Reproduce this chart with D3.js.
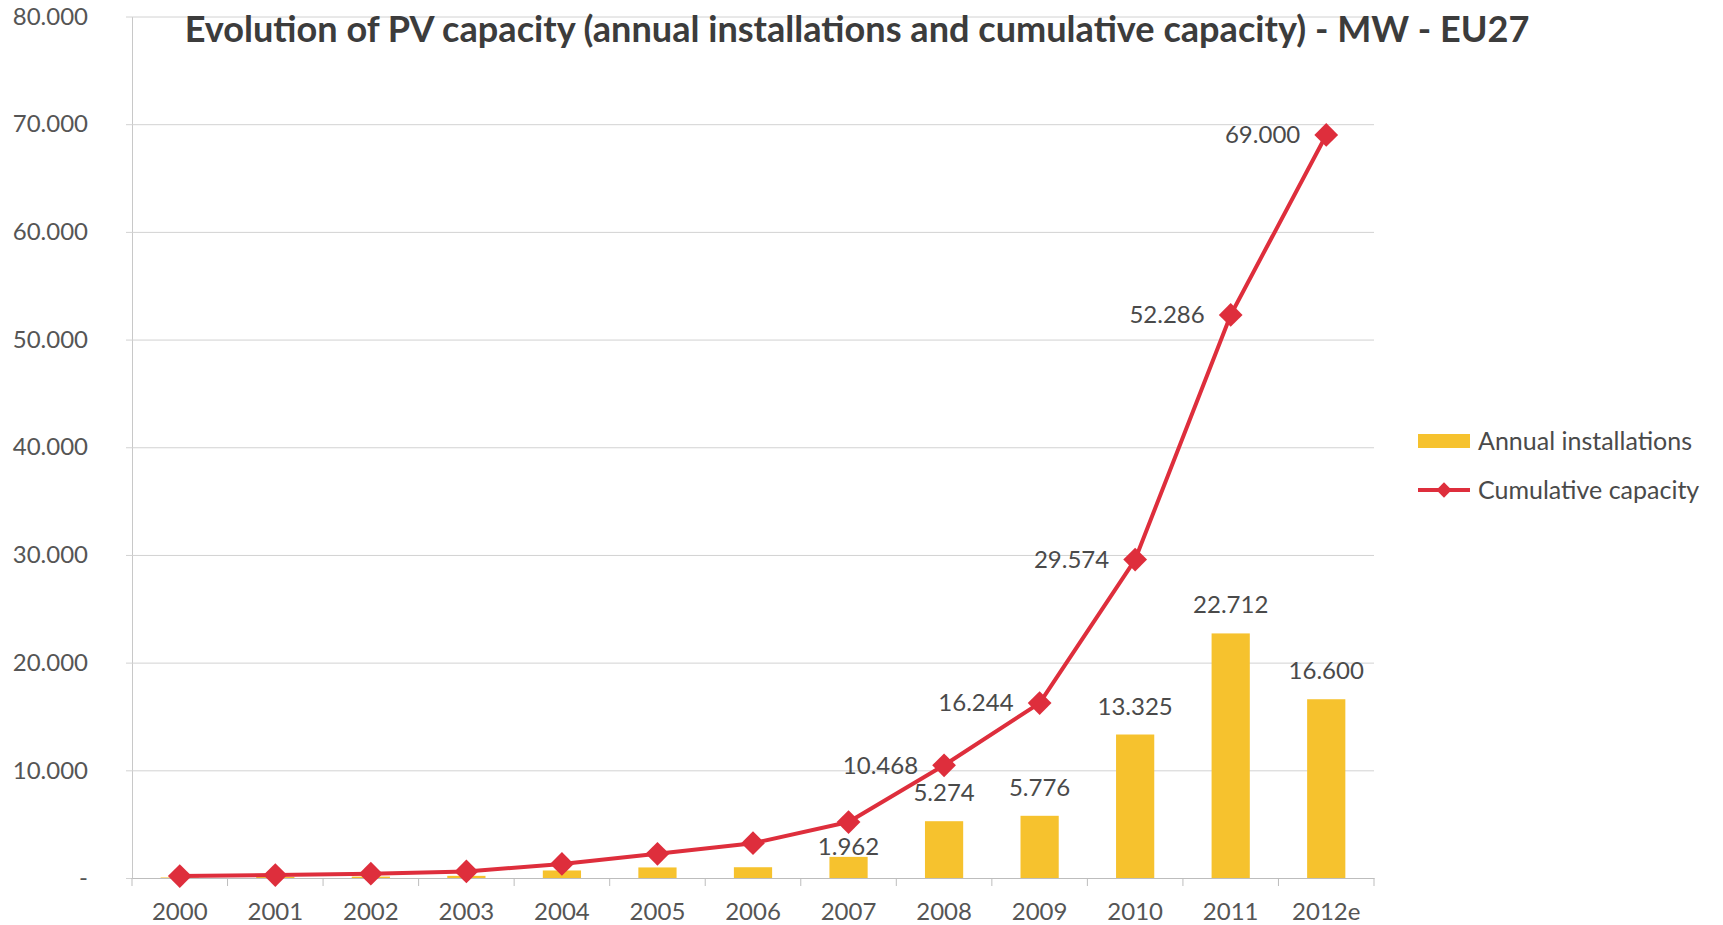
<!DOCTYPE html>
<html><head><meta charset="utf-8">
<script src="https://cdn.jsdelivr.net/npm/d3@7"></script>
<style>
html,body{margin:0;padding:0;background:#fff;}
svg{display:block;font-family:Lato,"Open Sans",sans-serif;}
</style></head>
<body>
<svg id="chart" width="1723" height="925"></svg>
<script>
const years = ["2000","2001","2002","2003","2004","2005","2006","2007","2008","2009","2010","2011","2012e"];
const annualInstallations = [50, 90, 130, 200, 700, 980, 1000, 1962, 5274, 5776, 13325, 22712, 16600];
const cumulativeCapacity = [185, 275, 405, 605, 1305, 2250, 3232, 5194, 10468, 16244, 29574, 52286, 69000];
const annualLabelled = [false,false,false,false,false,false,false,true,true,true,true,true,true];
const cumulativeLabelled = [false,false,false,false,false,false,false,false,true,true,true,true,true];
const yTicks = [0,10000,20000,30000,40000,50000,60000,70000,80000];
const titleText = "Evolution of PV capacity (annual installations and cumulative capacity) - MW - EU27";
const seriesNames = ["Annual installations","Cumulative capacity"];

const barColor = "#F6C22E", lineColor = "#DE2E3C", textColor = "#4a4a4a", gridColor = "#d2d2d2";
const svg = d3.select("#chart");
const plot = {left:132, right:1374, top:16.5, bottom:878};
const FONT = "Lato,'Open Sans',sans-serif";

const loc = d3.formatLocale({decimal:",", thousands:".", grouping:[3], currency:["",""]});
const fmt = loc.format(",.0f");

const x = d3.scaleBand().domain(years).range([plot.left, plot.right]).paddingInner(0.6).paddingOuter(0.3);
const xc = d => x(d) + x.bandwidth()/2;
const y = d3.scaleLinear().domain([0, 80000]).range([plot.bottom, plot.top]);

// y axis + gridlines
const gAxisY = svg.append("g").attr("transform", `translate(${plot.left},0)`)
  .call(d3.axisLeft(y).tickValues(yTicks).tickSize(-(plot.right-plot.left)).tickSizeOuter(0)
    .tickFormat(v => v === 0 ? "-" : loc.format(",")(v)));
gAxisY.select(".domain").attr("stroke", "#c8c8c8");
gAxisY.selectAll(".tick line").attr("stroke", gridColor).attr("x1", -6);
gAxisY.selectAll(".tick text").attr("x", -44).attr("fill", "#555").attr("font-size", 24)
  .attr("font-family", FONT);

// x axis
const catBounds = years.map((d,i) => plot.left + i*(plot.right-plot.left)/years.length).concat([plot.right]);
const gAxisX = svg.append("g").attr("transform", `translate(0,${plot.bottom})`)
  .call(d3.axisBottom(x).tickSize(0).tickPadding(25));
gAxisX.select(".domain").attr("stroke", "#bdbdbd");
gAxisX.selectAll(".tick text").attr("fill", "#555").attr("font-size", 24)
  .attr("font-family", FONT);
svg.append("g").selectAll("line").data(catBounds).join("line")
  .attr("x1", d=>d).attr("x2", d=>d).attr("y1", plot.bottom).attr("y2", plot.bottom+8)
  .attr("stroke", "#bdbdbd");

// bars
svg.append("g").selectAll("rect").data(years).join("rect")
  .attr("x", d => x(d)).attr("width", x.bandwidth())
  .attr("y", (d,i) => y(annualInstallations[i]))
  .attr("height", (d,i) => plot.bottom - y(annualInstallations[i]))
  .attr("fill", barColor);

// line
const line = d3.line().x((d,i) => xc(years[i])).y(d => y(d));
svg.append("path").datum(cumulativeCapacity).attr("d", line)
  .attr("fill", "none").attr("stroke", lineColor).attr("stroke-width", 4).attr("stroke-linejoin", "round");
const diamond = d3.symbol().type(d3.symbolDiamond2).size(360);
svg.append("g").selectAll("path").data(cumulativeCapacity).join("path")
  .attr("d", diamond).attr("transform", (d,i) => `translate(${xc(years[i])},${y(d)})`)
  .attr("fill", lineColor);

// annual labels
svg.append("g").selectAll("text").data(years.map((d,i)=>i).filter(i=>annualLabelled[i])).join("text")
  .attr("x", i => xc(years[i]))
  .attr("y", i => {
    const top = y(annualInstallations[i]);
    const cy = y(cumulativeCapacity[i]);
    let base = top - 20;
    if (Math.abs((base - 8) - cy) < 22) base = top - 2;
    return base;
  })
  .attr("text-anchor", "middle").attr("font-size", 24).attr("fill", textColor)
  .text(i => fmt(annualInstallations[i]));

// cumulative labels
svg.append("g").selectAll("text").data(years.map((d,i)=>i).filter(i=>cumulativeLabelled[i])).join("text")
  .attr("x", i => xc(years[i]) - 26).attr("y", i => y(cumulativeCapacity[i]))
  .attr("dy", "0.35em").attr("text-anchor", "end").attr("font-size", 24).attr("fill", textColor)
  .text(i => fmt(cumulativeCapacity[i]));

// title
const title = svg.append("text").attr("x", 857).attr("y", 42).attr("text-anchor", "middle")
  .attr("font-weight", "bold").attr("font-size", 29).attr("fill", "#3c3c3c").text(titleText);
const tl = title.node().getComputedTextLength();
title.attr("font-size", 29 * 1345 / tl);

// legend
const lg = svg.append("g");
lg.append("rect").attr("x", 1418).attr("y", 434).attr("width", 52).attr("height", 14).attr("fill", barColor);
lg.append("text").attr("x", 1478).attr("y", 441).attr("dy", "0.35em").attr("font-size", 25).attr("fill", textColor).text(seriesNames[0]);
lg.append("line").attr("x1", 1418).attr("x2", 1470).attr("y1", 490).attr("y2", 490).attr("stroke", lineColor).attr("stroke-width", 4);
lg.append("path").attr("d", d3.symbol().type(d3.symbolDiamond2).size(150)).attr("transform", "translate(1444,490)").attr("fill", lineColor);
lg.append("text").attr("x", 1478).attr("y", 490).attr("dy", "0.35em").attr("font-size", 25).attr("fill", textColor).text(seriesNames[1]);
</script>
</body></html>
